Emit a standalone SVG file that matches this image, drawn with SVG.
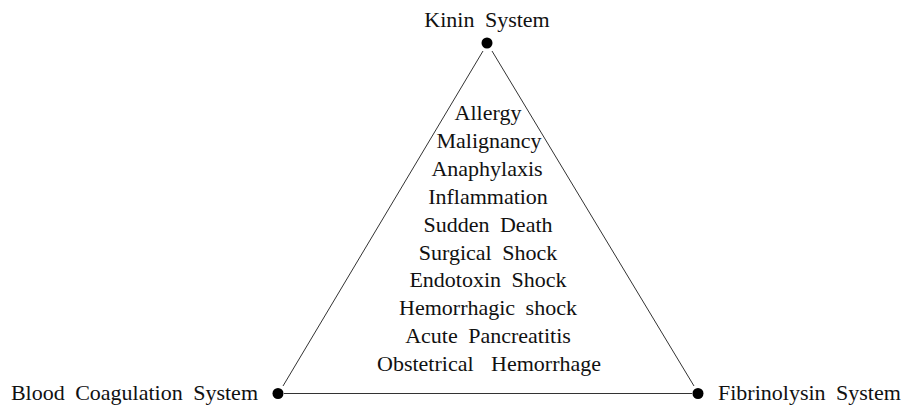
<svg xmlns="http://www.w3.org/2000/svg" width="906" height="408" viewBox="0 0 906 408">
<style>
text{font-family:"Liberation Serif","Times New Roman",serif;font-size:22px;fill:#111;word-spacing:5px}
.c{text-anchor:middle}
.edge{stroke:#333;stroke-width:1;fill:none}
.dot{fill:#000}
</style>
<rect width="906" height="408" fill="#fff"/>
<g id="connectors">
<line class="edge" x1="483" y1="51" x2="283" y2="386"/>
<line class="edge" x1="492" y1="51" x2="694" y2="386"/>
<line class="edge" x1="284" y1="393.5" x2="692" y2="393.5"/>
</g>
<g id="kinin">
<circle class="dot" cx="487" cy="43" r="5.5"/>
<text class="c" x="487" y="27">Kinin System</text>
</g>
<g id="coagulation">
<circle class="dot" cx="278" cy="393.5" r="5.5"/>
<text x="258" y="400" text-anchor="end">Blood Coagulation System</text>
</g>
<g id="fibrinolysin">
<circle class="dot" cx="698" cy="393.5" r="5.5"/>
<text x="718" y="400">Fibrinolysin System</text>
</g>
<g id="conditions">
<text class="c" x="488" y="120">Allergy</text>
<text class="c" x="489" y="148">Malignancy</text>
<text class="c" x="487" y="176">Anaphylaxis</text>
<text class="c" x="488" y="204">Inflammation</text>
<text class="c" x="488" y="232">Sudden Death</text>
<text class="c" x="488" y="259.5">Surgical Shock</text>
<text class="c" x="488" y="287">Endotoxin Shock</text>
<text class="c" x="488" y="315">Hemorrhagic shock</text>
<text class="c" x="488" y="343">Acute Pancreatitis</text>
<text class="c" x="489" y="371" style="word-spacing:12px">Obstetrical Hemorrhage</text>
</g>
</svg>
